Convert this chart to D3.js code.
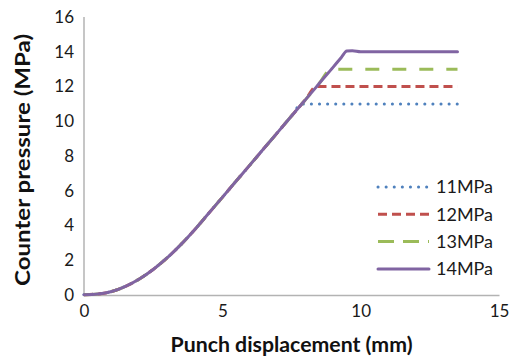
<!DOCTYPE html>
<html>
<head>
<meta charset="utf-8">
<script src="https://cdn.jsdelivr.net/npm/d3@7"></script>
<style>
  body { margin: 0; background: #fff; }
  svg { font-family: Lato, "Open Sans", sans-serif; }
</style>
</head>
<body>
<div id="chart"></div>
<script>
// punch displacement (mm)
const xs = [0, 0.5, 1, 1.5, 2, 2.5, 3, 3.5, 4, 4.5, 5, 5.5, 6, 6.5, 7, 7.5, 7.87, 8, 8.4, 8.5, 8.93, 9, 9.3, 9.5, 9.7, 10, 11, 12, 13, 13.5];
// counter pressure (MPa), one array per case
const p14 = [0.02, 0.06, 0.2, 0.5, 0.92, 1.47, 2.13, 2.9, 3.76, 4.69, 5.62, 6.56, 7.49, 8.43, 9.36, 10.3, 10.99, 11.23, 11.98, 12.17, 12.97, 13.1, 13.67, 14.04, 14.06, 14.0, 14, 14, 14, 14];
const p13 = [0.02, 0.06, 0.2, 0.5, 0.92, 1.47, 2.13, 2.9, 3.76, 4.69, 5.62, 6.56, 7.49, 8.43, 9.36, 10.3, 10.99, 11.23, 11.98, 12.17, 13, 13, 13, 13, 13, 13, 13, 13, 13, 13];
const p12 = [0.02, 0.06, 0.2, 0.5, 0.92, 1.47, 2.13, 2.9, 3.76, 4.69, 5.62, 6.56, 7.49, 8.43, 9.36, 10.3, 10.99, 11.23, 12, 12, 12, 12, 12, 12, 12, 12, 12, 12, 12, 12];
const p11 = [0.02, 0.06, 0.2, 0.5, 0.92, 1.47, 2.13, 2.9, 3.76, 4.69, 5.62, 6.56, 7.49, 8.43, 9.36, 10.3, 11, 11, 11, 11, 11, 11, 11, 11, 11, 11, 11, 11, 11, 11];

const seriesNames = ["11MPa", "12MPa", "13MPa", "14MPa"];
const seriesValues = [p11, p12, p13, p14];
const xTicks = [0, 5, 10, 15];
const yTicks = [0, 2, 4, 6, 8, 10, 12, 14, 16];

const styles = [
  { color: "#4F81BD", dash: "0.1,8", cap: "round", width: 3 },
  { color: "#C0504D", dash: "9,5", cap: "butt", width: 3 },
  { color: "#9BBB59", dash: "14,13", cap: "butt", width: 3 },
  { color: "#8064A2", dash: null, cap: "round", width: 3 }
];

const W = 516, H = 357;
const margin = { top: 17, right: 17, bottom: 62, left: 84 };
const width = W - margin.left - margin.right;
const height = H - margin.top - margin.bottom;

const svg = d3.select("#chart").append("svg")
  .attr("width", W)
  .attr("height", H);

const g = svg.append("g")
  .attr("transform", `translate(${margin.left},${margin.top})`);

const x = d3.scaleLinear().domain([0, 15]).range([0, width]);
const y = d3.scaleLinear().domain([0, 16]).range([height, 0]);

// axes, no tick marks
const xAxis = g.append("g")
  .attr("transform", `translate(0,${height})`)
  .call(d3.axisBottom(x).tickValues(xTicks).tickSize(0).tickPadding(10));
const yAxis = g.append("g")
  .call(d3.axisLeft(y).tickValues(yTicks).tickSize(0).tickPadding(10));

[xAxis, yAxis].forEach(a => {
  a.select(".domain").attr("stroke", "#b3b3b3").attr("stroke-width", 1.5);
  a.selectAll("text").attr("font-size", 17).attr("fill", "#1a1a1a").attr("font-family", "Lato, sans-serif");
});
yAxis.select(".domain").attr("d", `M0,${height}V0`);

const line = d3.line()
  .x((d, i) => x(xs[i]))
  .y(d => y(d))
  .curve(d3.curveMonotoneX);

seriesValues.forEach((vals, k) => {
  const s = styles[k];
  g.append("path")
    .datum(vals)
    .attr("fill", "none")
    .attr("stroke", s.color)
    .attr("stroke-width", s.width)
    .attr("stroke-linecap", s.cap)
    .attr("stroke-linejoin", "round")
    .attr("stroke-dasharray", s.dash)
    .attr("d", line);
});

// legend
const legend = svg.append("g").attr("transform", "translate(378,187)");
seriesNames.forEach((name, k) => {
  const s = styles[k];
  const row = legend.append("g").attr("transform", `translate(0,${k * 27.3})`);
  row.append("line")
    .attr("x1", 0).attr("x2", 51)
    .attr("stroke", s.color)
    .attr("stroke-width", s.width)
    .attr("stroke-linecap", s.cap)
    .attr("stroke-dasharray", k === 2 ? "16,9" : s.dash);
  row.append("text")
    .attr("x", 58).attr("y", 0)
    .attr("dy", "0.35em")
    .attr("font-size", 18)
    .attr("fill", "#1a1a1a")
    .text(name);
});

// axis titles
svg.append("text")
  .attr("x", margin.left + x(7.5))
  .attr("y", 345)
  .attr("dy", "0.35em")
  .attr("text-anchor", "middle")
  .attr("font-size", 21)
  .attr("font-weight", "bold")
  .attr("fill", "#111")
  .attr("textLength", 242)
  .attr("lengthAdjust", "spacingAndGlyphs")
  .text("Punch displacement (mm)");

svg.append("text")
  .attr("transform", "translate(23,160) rotate(-90)")
  .attr("dy", "0.35em")
  .attr("text-anchor", "middle")
  .attr("font-size", 21)
  .attr("font-weight", "bold")
  .attr("fill", "#111")
  .attr("textLength", 252)
  .attr("lengthAdjust", "spacingAndGlyphs")
  .text("Counter pressure (MPa)");
</script>
</body>
</html>
